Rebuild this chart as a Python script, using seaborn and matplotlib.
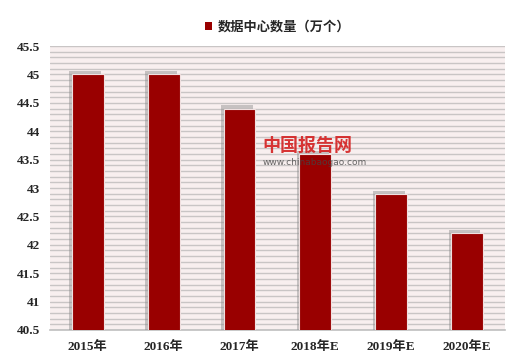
import matplotlib
matplotlib.use("Agg")
import matplotlib.pyplot as plt
import matplotlib.patheffects as pe
import seaborn as sns
import pandas as pd
import numpy as np

years = ["2015年", "2016年", "2017年", "2018年E", "2019年E", "2020年E"]
values = [45.0, 45.0, 44.4, 43.6, 42.9, 42.2]
series_name = "数据中心数量（万个）"

sns.set_theme(style="white")
plt.rcParams['font.family'] = ['Liberation Serif', 'Noto Sans CJK SC', 'DejaVu Sans']
plt.rcParams['font.weight'] = 'bold'

df = pd.DataFrame({"year": years, "value": values, "series": series_name})

fig = plt.figure(figsize=(5.2, 3.63), dpi=100)
fig.patch.set_facecolor("white")
ax = fig.add_axes([0.096, 0.091, 0.875, 0.782])
ax.set_facecolor("#f8efef")

sns.barplot(data=df, x="year", y="value", hue="series", palette=["#990000"],
            saturation=1, width=0.42, ax=ax, legend=True, edgecolor="#f0e0e0",
            linewidth=0.8, zorder=3)

for p in ax.patches:
    p.set_path_effects([pe.SimplePatchShadow(offset=(-1.8, 2.2), shadow_rgbFace="#8a8a8a", alpha=0.45), pe.Normal()])

ticks = np.arange(40.5, 45.51, 0.5)
ax.set_ylim(40.5, 45.5)
ax.set_yticks(ticks)
ax.set_yticklabels([f"{t:g}" for t in ticks])
ax.set_yticks(np.arange(40.5, 45.51, 0.1), minor=True)
ax.grid(axis="y", which="both", color="#c9c5c5", linewidth=1.0, zorder=0)
ax.set_axisbelow(True)
ax.set_xlim(-0.5, 5.5)

for s in ["top", "right", "left"]:
    ax.spines[s].set_visible(False)
ax.spines["bottom"].set_color("#bfbfbf")
ax.spines["bottom"].set_linewidth(1.2)

ax.tick_params(axis="y", which="both", length=0, labelsize=9.5, pad=7)
ax.tick_params(axis="x", length=0, labelsize=9.5, pad=8)
for lab in ax.get_xticklabels() + ax.get_yticklabels():
    lab.set_fontweight("bold")
ax.set_xlabel("")
ax.set_ylabel("")

leg = ax.legend(loc="upper center", bbox_to_anchor=(0.5, 1.135), frameon=False,
                handlelength=0.6, handleheight=0.6, handletextpad=0.4,
                prop={"family": ["Noto Sans CJK SC"], "weight": "bold", "size": 9.5})
for h in leg.legend_handles:
    h.set_path_effects([pe.Normal()])
    h.set_edgecolor("none")

# watermark
fig.text(0.505, 0.585, "中国报告网", color="#d42020", fontsize=13, fontweight="bold",
         family=["Noto Sans CJK SC"], alpha=0.9, zorder=10)
fig.text(0.505, 0.545, "www.chinabaogao.com", color="#444444", fontsize=6.5,
         family=["DejaVu Sans"], fontweight="normal", alpha=0.8, zorder=10)

fig.savefig("out.png", dpi=100)
